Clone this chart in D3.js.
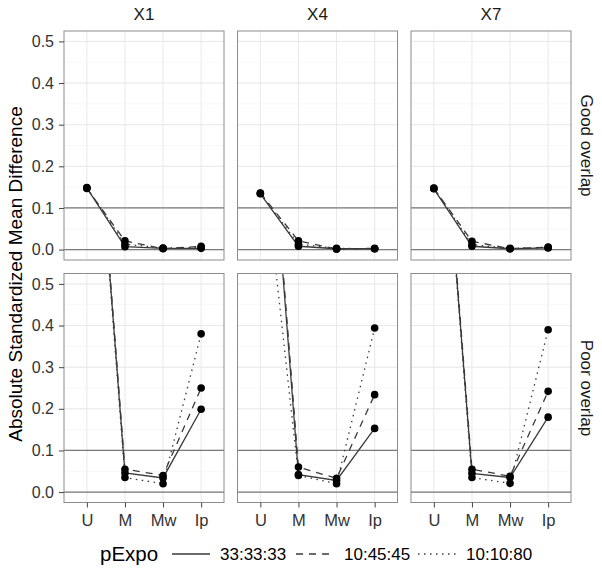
<!DOCTYPE html>
<html>
<head>
<meta charset="utf-8">
<script src="https://cdn.jsdelivr.net/npm/d3@7"></script>
<style>
  body { margin: 0; background: #fff; }
  svg { font-family: "Liberation Sans", Arial, Helvetica, sans-serif; }
</style>
</head>
<body>
<svg id="chart" width="602" height="581"></svg>
<script>
// categories & labels
const categories = ["U", "M", "Mw", "Ip"];
const variables = ["X1", "X4", "X7"];
const overlaps = ["Good overlap", "Poor overlap"];
const pExpo = ["33:33:33", "10:45:45", "10:10:80"];
const yTicks = [0, 0.1, 0.2, 0.3, 0.4, 0.5];
const refLines = [0, 0.1];

// values per panel, one row per pExpo level (U, M, Mw, Ip)
const goodX1 = [[0.148, 0.007, 0.003, 0.003], [0.147, 0.021, 0.002, 0.008], [0.149, 0.013, 0.004, 0.005]];
const goodX4 = [[0.134, 0.008, 0.002, 0.002], [0.136, 0.021, 0.001, 0.003], [0.135, 0.013, 0.003, 0.002]];
const goodX7 = [[0.146, 0.008, 0.002, 0.004], [0.147, 0.020, 0.002, 0.006], [0.148, 0.012, 0.003, 0.005]];
const poorX1 = [[1.24, 0.046, 0.034, 0.199], [1.25, 0.055, 0.040, 0.250], [1.23, 0.035, 0.020, 0.380]];
const poorX4 = [[1.22, 0.042, 0.028, 0.153], [1.23, 0.060, 0.033, 0.234], [0.87, 0.040, 0.020, 0.394]];
const poorX7 = [[1.22, 0.045, 0.035, 0.180], [1.23, 0.055, 0.038, 0.242], [1.21, 0.035, 0.021, 0.390]];

const panelData = [[goodX1, goodX4, goodX7], [poorX1, poorX4, poorX7]];

const dashes = [null, "7,6", "1.5,4.5"];

const svg = d3.select("#chart");
const panelX = [64, 237.5, 411];
const panelY = [31, 273.5];
const pw = 160, ph = 229;

const x = d3.scalePoint().domain(categories).range([0, pw]).padding(0.6);
const y = d3.scaleLinear().domain([-0.025, 0.525]).range([ph, 0]);
const minorTicks = d3.range(-0.05, 0.55, 0.05).map(d => +d.toFixed(2));

const line = d3.line()
    .x((d, i) => x(categories[i]))
    .y(d => y(d));

overlaps.forEach((ov, r) => {
  variables.forEach((v, c) => {
    const g = svg.append("g")
        .attr("transform", "translate(" + panelX[c] + "," + panelY[r] + ")");
    const clipId = "clip_" + r + "_" + c;
    g.append("clipPath").attr("id", clipId)
      .append("rect").attr("width", pw).attr("height", ph);

    // grid
    g.selectAll(".minor").data(minorTicks.filter(t => y(t) > 0 && y(t) < ph)).enter()
      .append("line")
        .attr("x1", 0).attr("x2", pw)
        .attr("y1", d => y(d)).attr("y2", d => y(d))
        .attr("stroke", "#f2f2f2").attr("stroke-width", 0.6);
    g.selectAll(".majorY").data(yTicks).enter()
      .append("line")
        .attr("x1", 0).attr("x2", pw)
        .attr("y1", d => y(d)).attr("y2", d => y(d))
        .attr("stroke", "#e6e6e6").attr("stroke-width", 0.9);
    g.selectAll(".majorX").data(categories).enter()
      .append("line")
        .attr("x1", d => x(d)).attr("x2", d => x(d))
        .attr("y1", 0).attr("y2", ph)
        .attr("stroke", "#e6e6e6").attr("stroke-width", 0.9);

    // reference lines
    g.selectAll(".ref").data(refLines).enter()
      .append("line")
        .attr("x1", 0).attr("x2", pw)
        .attr("y1", d => y(d)).attr("y2", d => y(d))
        .attr("stroke", "#7a7a7a").attr("stroke-width", 1.3);

    const plot = g.append("g").attr("clip-path", "url(#" + clipId + ")");
    const rows = panelData[r][c];
    // draw dotted first, solid last
    [2, 1, 0].forEach(k => {
      plot.append("path")
        .attr("d", line(rows[k]))
        .attr("fill", "none")
        .attr("stroke", "#3a3a3a")
        .attr("stroke-width", 1.3)
        .attr("stroke-dasharray", dashes[k]);
    });
    rows.forEach(row => {
      plot.selectAll(null).data(row).enter()
        .append("circle")
          .attr("cx", (d, i) => x(categories[i]))
          .attr("cy", d => y(d))
          .attr("r", 3.8)
          .attr("fill", "#000");
    });

    // border
    g.append("rect")
      .attr("width", pw).attr("height", ph)
      .attr("fill", "none").attr("stroke", "#8c8c8c").attr("stroke-width", 1);

    // y axis on first column
    if (c === 0) {
      const ya = g.append("g").call(d3.axisLeft(y).tickValues(yTicks).tickFormat(d3.format(".1f")).tickSize(5).tickPadding(5));
      ya.select(".domain").remove();
      ya.selectAll(".tick line").attr("stroke", "#444");
      ya.selectAll("text").attr("font-size", 16).attr("fill", "#333")
        .style("font-family", "Liberation Sans, Arial, sans-serif");
    }
    // x axis on bottom row
    if (r === 1) {
      const xa = g.append("g").attr("transform", "translate(0," + ph + ")")
        .call(d3.axisBottom(x).tickSize(5).tickPadding(7));
      xa.select(".domain").remove();
      xa.selectAll(".tick line").attr("stroke", "#444");
      xa.selectAll("text").attr("font-size", 16.5).attr("fill", "#333")
        .style("font-family", "Liberation Sans, Arial, sans-serif");
    }
    // strips
    if (r === 0) {
      g.append("text").attr("x", pw / 2).attr("y", -11)
        .attr("text-anchor", "middle").attr("font-size", 17).attr("fill", "#1a1a1a")
        .text(v);
    }
    if (c === 2) {
      g.append("text")
        .attr("transform", "translate(" + (pw + 10) + "," + (ph / 2) + ") rotate(90)")
        .attr("text-anchor", "middle").attr("font-size", 17).attr("fill", "#1a1a1a")
        .text(ov);
    }
  });
});

// y axis title
svg.append("text")
  .attr("transform", "translate(22,274) rotate(-90)")
  .attr("text-anchor", "middle").attr("font-size", 19).attr("fill", "#000")
  .text("Absolute Standardized Mean Difference");

// legend
const legend = svg.append("g").attr("transform", "translate(0,554)");
legend.append("text").attr("x", 100).attr("y", 6.5)
  .attr("font-size", 20.5).attr("fill", "#000").text("pExpo");
const keyX = [172, 296, 418];
pExpo.forEach((p, k) => {
  legend.append("line")
    .attr("x1", keyX[k]).attr("x2", keyX[k] + 38)
    .attr("y1", 0).attr("y2", 0)
    .attr("stroke", "#3a3a3a").attr("stroke-width", 1.3)
    .attr("stroke-dasharray", dashes[k]);
  legend.append("text").attr("x", keyX[k] + 48).attr("y", 6)
    .attr("font-size", 17).attr("fill", "#000").text(p);
});
</script>
</body>
</html>
